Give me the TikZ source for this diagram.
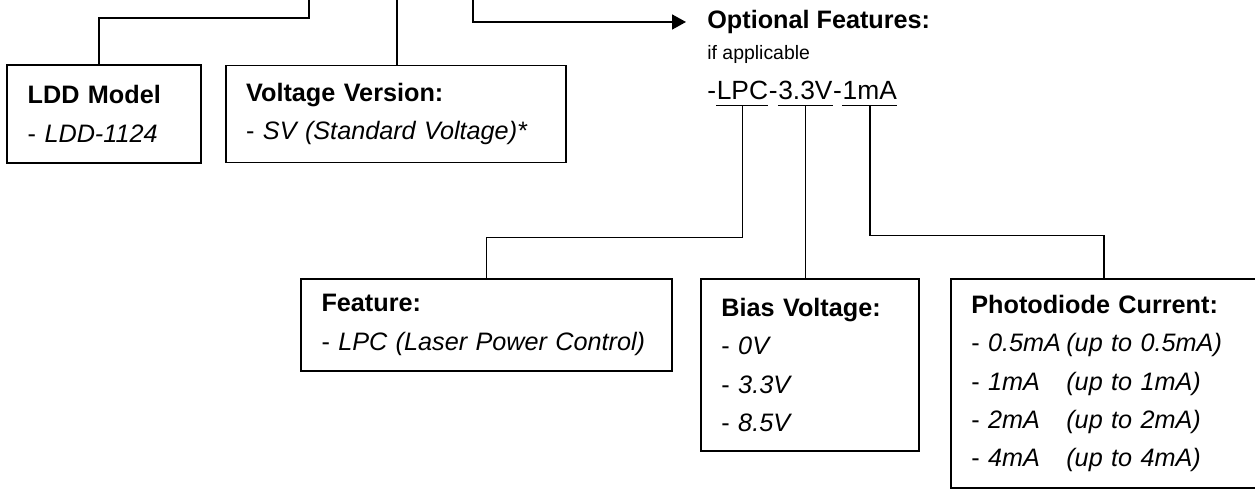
\documentclass[tikz,border=0pt]{standalone}
\usepackage{fontspec}
\setmainfont{Liberation Sans}
\usepackage{tikz}
\usetikzlibrary{arrows.meta, positioning}

\begin{document}
\begin{tikzpicture}[
    node distance=0.46cm,
    box/.style={rectangle, draw, line width=1.1pt, inner xsep=0.41cm, inner ysep=0pt, text width=#1, align=left, font=\fontsize{14.35}{21.8}\selectfont},
    link/.style={line width=1pt},
    arrow/.style={-{Triangle[length=0.28cm, width=0.3cm]}, line width=1pt},
    head/.style={inner xsep=0.42cm, inner ysep=0pt, font=\fontsize{14.35}{17}\selectfont\bfseries},
    note/.style={inner sep=0pt, font=\fontsize{11.06}{13}\selectfont},
    code/.style={inner sep=0pt, text height=0.72em, text depth=0.32em, font=\fontsize{15}{18}\selectfont}
]
    \useasboundingbox (0,0) rectangle (25.1,-9.88);

    % top row
    \node[box=3.05cm, minimum height=1.96cm] (ldd) at (2.08,-2.28) {\textbf{LDD Model}\\- \textit{LDD-1124}};
    \node[box=5.98cm, minimum height=1.94cm, right=of ldd] (volt) {\textbf{Voltage Version:}\\- \textit{SV (Standard Voltage)*}};

    \coordinate (t1) at (6.18,0);
    \coordinate (t2) at (7.94,0);
    \coordinate (t3) at (9.46,0);

    \node[head, anchor=west] (opt) at (13.72,-0.44) {Optional Features:};
    \node[note, anchor=base west] (app) at ([xshift=0.42cm, yshift=-0.62cm]opt.base west) {if applicable};

    % option code
    \node[code, anchor=base west] (d1) at ([yshift=-0.8cm]app.base west) {-};
    \node[code, right=0pt of d1] (lpc) {LPC};
    \node[code, right=0pt of lpc] (d2) {-};
    \node[code, right=0pt of d2] (v33) {3.3V};
    \node[code, right=0pt of v33] (d3) {-};
    \node[code, right=0pt of d3] (ma) {1mA};

    % bottom row
    \node[box=6.6cm, minimum height=1.84cm] (feat) at (9.73,-6.5) {\textbf{Feature:}\\- \textit{LPC (Laser Power Control)}};
    \node[box=3.54cm, minimum height=3.44cm, anchor=north west] (bias) at ([xshift=0.54cm]feat.north east) {\textbf{Bias Voltage:}\\- \textit{0V}\\- \textit{3.3V}\\- \textit{8.5V}};
    \node[box=5.32cm, minimum height=4.18cm, anchor=north west] (photo) at ([xshift=0.6cm]bias.north east) {\textbf{Photodiode Current:}\\
        \makebox[1.9cm][l]{- \textit{0.5mA}}\textit{(up to 0.5mA)}\\
        \makebox[1.9cm][l]{- \textit{1mA}}\textit{(up to 1mA)}\\
        \makebox[1.9cm][l]{- \textit{2mA}}\textit{(up to 2mA)}\\
        \makebox[1.9cm][l]{- \textit{4mA}}\textit{(up to 4mA)}};

    \draw[link] (t1) -- ++(0,-0.36) -| ([xshift=-0.1cm]ldd.north);
    \draw[link] (t2) -- (t2 |- volt.north);
    \draw[arrow] (t3) |- (opt.west);

    \draw[link] (lpc.south west) -- (lpc.south east);
    \draw[link] (v33.south west) -- (v33.south east);
    \draw[link] (ma.south west) -- (ma.south east);

    \draw[link] (lpc.south) -- ++(0,-2.64) -| (feat.north);
    \draw[link] (v33.south) -- (v33.south |- bias.north);
    \draw[link] (ma.south) -- ++(0,-2.6) -| (photo.north);
\end{tikzpicture}
\end{document}
